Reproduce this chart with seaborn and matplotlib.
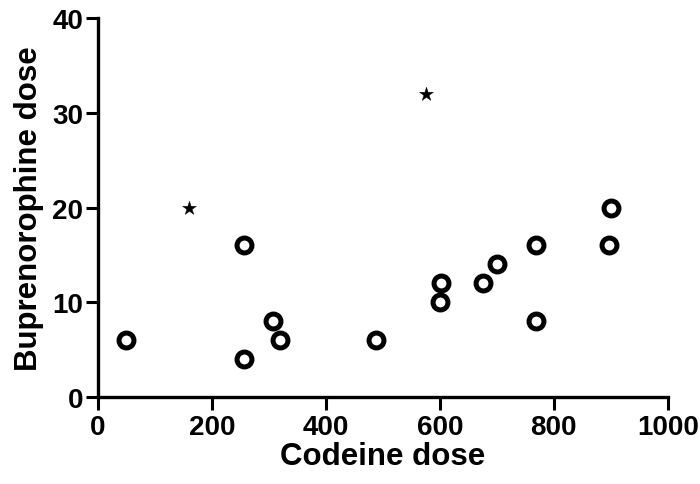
import matplotlib
matplotlib.use("Agg")
import matplotlib.pyplot as plt
import pandas as pd
import seaborn as sns

sns.set_style("ticks")
plt.rcParams['font.family'] = ['Liberation Sans', 'DejaVu Sans']
plt.rcParams['font.weight'] = 'bold'
plt.rcParams.update({'text.color': 'black', 'axes.labelcolor': 'black',
                     'xtick.color': 'black', 'ytick.color': 'black',
                     'axes.edgecolor': 'black'})

codeine = [50, 256, 256, 308, 320, 488, 600, 602, 675, 700, 768, 768, 896, 900]
bupe = [6, 4, 16, 8, 6, 6, 10, 12, 12, 14, 16, 8, 16, 20]
star_codeine = [160, 576]
star_bupe = [20, 32]

df = pd.DataFrame({"codeine": codeine, "bupe": bupe})
df_star = pd.DataFrame({"codeine": star_codeine, "bupe": star_bupe})

fig, ax = plt.subplots(figsize=(7, 4.85), dpi=100)
fig.subplots_adjust(left=0.14, right=0.954, bottom=0.179, top=0.961)

sns.scatterplot(x="codeine", y="bupe", data=df, ax=ax, marker="o", s=115,
                facecolor="white", edgecolor="black", linewidth=3.6, zorder=3)
sns.scatterplot(x="codeine", y="bupe", data=df_star, ax=ax, marker="*", s=110,
                color="black", edgecolor="black", linewidth=0.3, zorder=3)

ax.set_xlim(0, 1000)
ax.set_ylim(0, 40)
ax.set_xticks([0, 200, 400, 600, 800, 1000])
ax.set_yticks([0, 10, 20, 30, 40])
ax.set_xlabel("Codeine dose", fontsize=22.5, fontweight="bold", labelpad=1)
ax.set_ylabel("Buprenorophine dose", fontsize=22.5, fontweight="bold", labelpad=6)
ax.tick_params(labelsize=20, width=2.2, length=9)
ax.tick_params(axis="y", pad=1.5)
ax.tick_params(axis="x", pad=3)
for side in ["left", "bottom"]:
    ax.spines[side].set_linewidth(2.4)
sns.despine(ax=ax)
for lab in ax.get_xticklabels() + ax.get_yticklabels():
    lab.set_fontweight("bold")
for c in ax.collections:
    c.set_clip_on(False)

plt.savefig("out.png", dpi=100)
